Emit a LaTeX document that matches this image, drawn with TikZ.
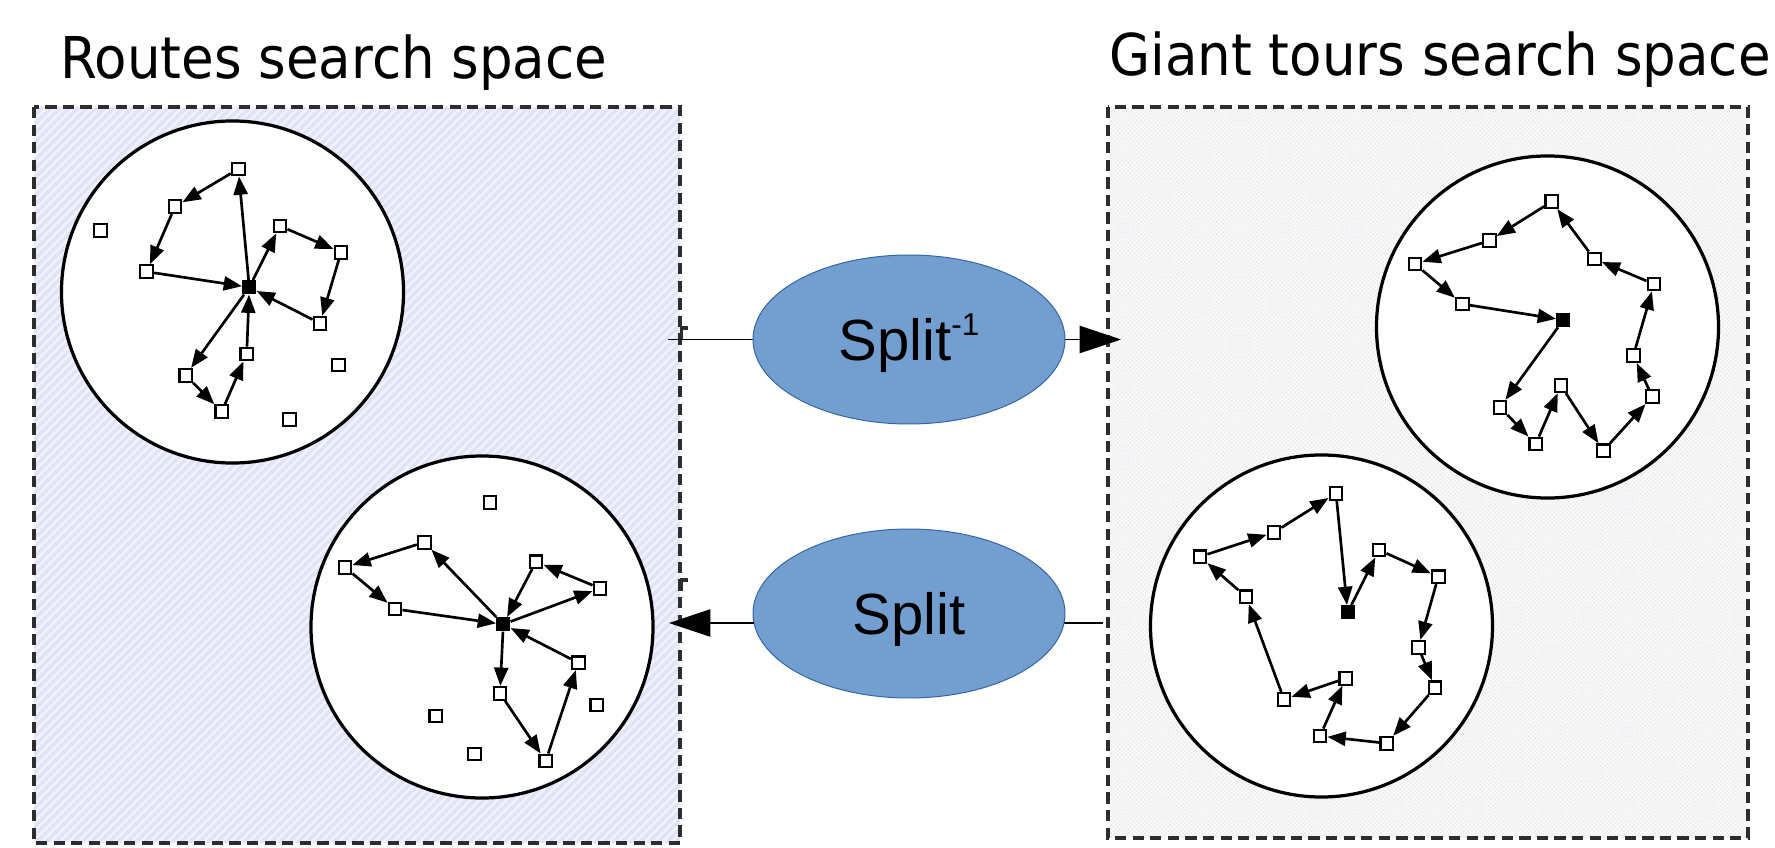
\documentclass[tikz,border=0pt]{standalone}
\usepackage{fontspec}
\newfontfamily\titlefont[FakeStretch=0.92]{DejaVu Sans}
\newfontfamily\splitfont{Liberation Sans}
\usetikzlibrary{arrows.meta,shapes.geometric,patterns}
\definecolor{splitfill}{HTML}{729FCF}
\definecolor{splitline}{HTML}{3465A4}
\definecolor{routebg}{RGB}{242,242,253}
\definecolor{routestripe}{RGB}{226,226,248}
\definecolor{tourbg}{RGB}{248,248,251}
\definecolor{frame}{RGB}{45,45,45}

\begin{document}
\begin{tikzpicture}[x=0.25mm,y=-0.25mm,
  spaceframe/.style={draw=frame,line width=2.8pt,dash pattern=on 8pt off 4.5pt},
  title/.style={anchor=base west,inner sep=0pt,font=\titlefont\fontsize{41}{49}\selectfont},
  region/.style={circle,draw=black,fill=white,line width=2.3pt,minimum size=243.3pt,inner sep=0pt},
  cust/.style={rectangle,draw=black,fill=white,line width=1.6pt,minimum size=9pt,inner sep=0pt},
  depot/.style={rectangle,fill=black,minimum size=10pt,inner sep=0pt},
  arc/.style={-{Triangle[length=13pt,width=10pt]},line width=1.9pt},
  splitnode/.style={ellipse,draw=splitline,fill=splitfill,line width=0.7pt,
    minimum width=221.9pt,minimum height=120.2pt,inner sep=0pt,
    text height=30.5pt,text depth=0pt,font=\splitfont\fontsize{41.3}{48}\selectfont},
  conn/.style={line width=1pt},
  bigtip/.style={-{Triangle[length=29.5pt,width=19.5pt]}},
  glue/.style={line width=2.4pt,draw=frame}]

\useasboundingbox (0,0) rectangle (1775,848);

% ---- routes search space (left panel) ----
\fill[routebg] (34,107) rectangle (680,843);
\begin{scope}
  \clip (34,107) rectangle (680,843);
  \foreach \k in {0,...,155}
    \draw[routestripe,line width=2.4pt] ({-702+\k*9},843) -- ++(736,-736);
\end{scope}
\draw[spaceframe] (34,107) rectangle (680,843);
\node[title] (ltitle) at (60,79) {Routes search space};

% ---- giant tours search space (right panel) ----
\fill[tourbg] (1108,107) rectangle (1748,838);
\fill[pattern=crosshatch dots,pattern color=black!12] (1108,107) rectangle (1748,838);
\draw[spaceframe] (1108,107) rectangle (1748,838);
\node[title] (rtitle) at (1109,76) {Giant tours search space};

% ---- solution regions ----
\node[region] (c1) at (232.5,292) {};
\node[region] (c2) at (482,627) {};
\node[region] (c3) at (1547.5,327) {};
\node[region] (c4) at (1321.5,626) {};

% ---- first route solution ----
\node[depot] (r1d) at (249.3,287.3) {};
\foreach \n/\x/\y in {a/238.3/169, b/175/206.7, c/146.7/271.7, e/280/226,
  f/341/252.3, g/320/323.3, h/246.7/354, i/185.7/375.3, j/221.7/411.7,
  x/100.7/230.7, y/338.3/365, z/289.3/419.3}
  \node[cust] (r1\n) at (\x,\y) {};
\foreach \u/\v in {d/a, a/b, b/c, c/d, d/e, e/f, f/g, g/d, d/i, i/j, j/h, h/d}
  \draw[arc] (r1\u) -- (r1\v);

% ---- second route solution ----
\node[depot] (r2d) at (503.3,624.3) {};
\foreach \n/\x/\y in {a/424.3/542.3, b/345/567.3, c/395/609, e/536/561.7,
  f/600/588.3, g/578.3/662.7, h/500/693.3, i/545.7/761,
  w/490/502.3, x/435.7/716, y/474.3/754, z/596.7/705}
  \node[cust] (r2\n) at (\x,\y) {};
\foreach \u/\v in {d/a, a/b, b/c, c/d, d/f, f/e, e/d, d/h, h/i, i/g, g/d}
  \draw[arc] (r2\u) -- (r2\v);

% ---- first giant tour ----
\node[depot] (t1d) at (1563.3,320) {};
\foreach \n/\x/\y in {1/1551.7/201.7, 2/1489.3/240.7, 3/1415/264, 4/1462.3/304,
  5/1500/407.3, 6/1535.7/444, 7/1561/385.7, 8/1603.3/450.7, 9/1652.3/396.7,
  10/1633.3/355.7, 11/1654/284, 12/1594.3/259}
  \node[cust] (t1\n) at (\x,\y) {};
\foreach \u/\v in {d/5, 5/6, 6/7, 7/8, 8/9, 9/10, 10/11, 11/12, 12/1, 1/2, 2/3, 3/4, 4/d}
  \draw[arc] (t1\u) -- (t1\v);

% ---- second giant tour ----
\node[depot] (t2d) at (1347.7,612.3) {};
\foreach \n/\x/\y in {1/1336/493.3, 2/1274/532.3, 3/1200/556.7, 4/1246/596.7,
  5/1284/699.3, 6/1345.7/678.3, 7/1320/736, 8/1386.7/743.3, 9/1435/687.7,
  10/1418.3/647.3, 11/1438.3/576.7, 12/1379/550}
  \node[cust] (t2\n) at (\x,\y) {};
\foreach \u/\v in {d/12, 12/11, 11/10, 10/9, 9/8, 8/7, 7/6, 6/5, 5/4, 4/3, 3/2, 2/1, 1/d}
  \draw[arc] (t2\u) -- (t2\v);

% ---- glue marks on the left frame ----
\draw[glue] (681.5,339) -- (681.5,328) -- (688,328);
\draw[glue] (681.5,591) -- (681.5,580) -- (688,580);

% ---- Split operators ----
\coordinate (upin) at (668,339.5);
\coordinate (upout) at (1121,339.5);
\coordinate (downin) at (1103,623);
\coordinate (downout) at (669,623);
\draw[conn] (upin) -- (909,339.5);
\draw[conn] (downin) -- (909,623);
\node[splitnode] (s1) at (909,339.5) {Split\raisebox{17.8pt}{\fontsize{22.5}{24}\selectfont -1}};
\node[splitnode] (s2) at (909,613.5) {Split};
\draw[conn,bigtip] (s1) -- (upout);
\draw[conn,bigtip] (s2.west |- downout) ++(1,0) -- (downout);
\end{tikzpicture}
\end{document}
